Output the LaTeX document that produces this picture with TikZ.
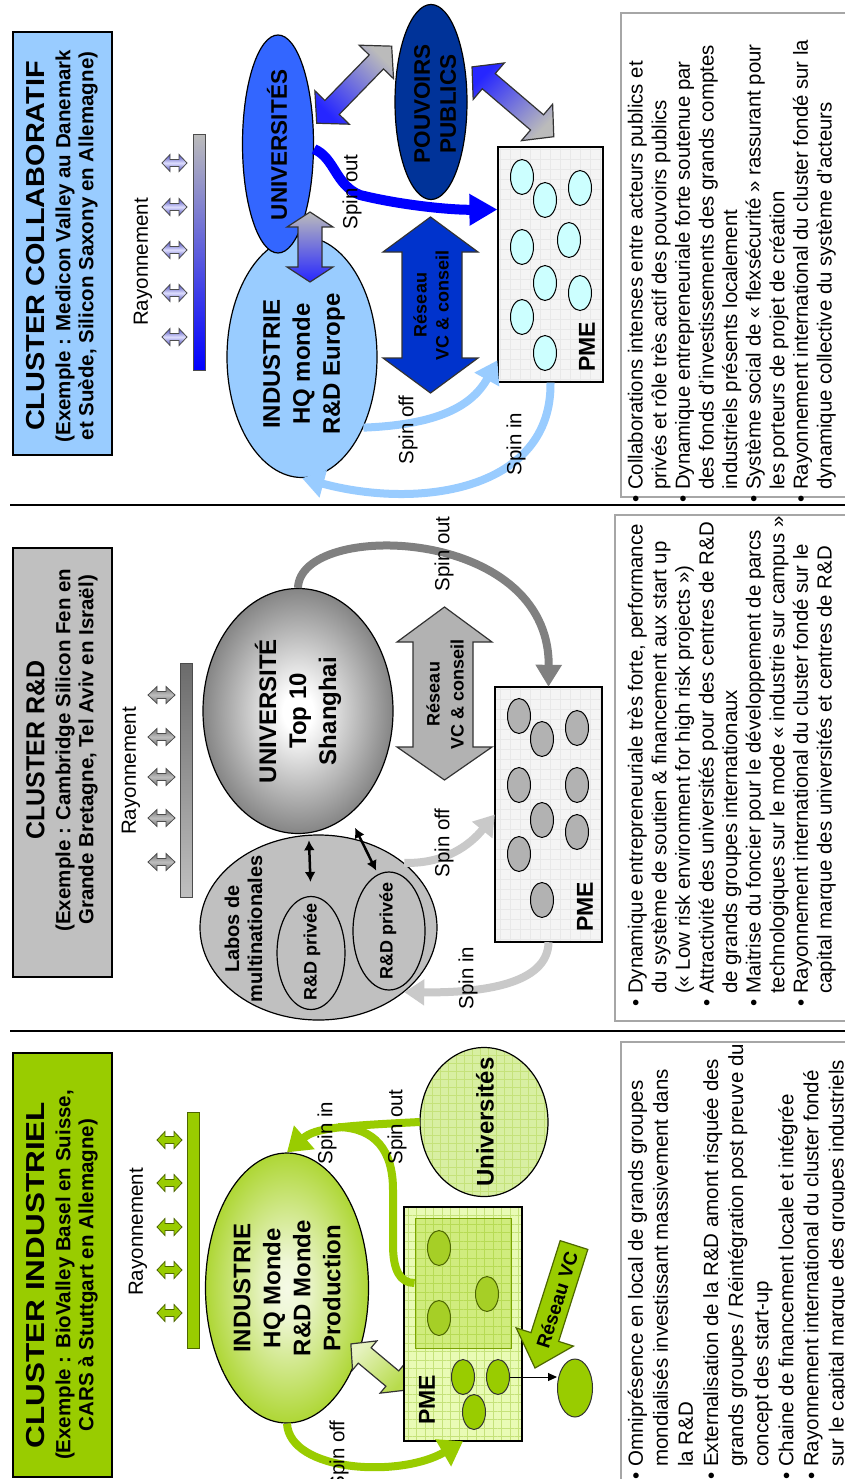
\documentclass[tikz,border=0pt]{standalone}
\usepackage{fontspec}
\setmainfont{Liberation Sans}
\usepackage{graphicx}
\usetikzlibrary{arrows.meta, shapes.geometric, patterns.meta}

\definecolor{vert}{HTML}{99CC00}
\definecolor{vertfonce}{HTML}{4D6600}
\definecolor{vertclair}{HTML}{E9FBB5}
\definecolor{vertgrille}{HTML}{C5E27A}
\definecolor{vertpale}{HTML}{D8EFA2}
\definecolor{vertcell}{HTML}{A6CF26}
\definecolor{gris}{HTML}{C0C0C0}
\definecolor{grismoyen}{HTML}{B2B2B2}
\definecolor{grisfonce}{HTML}{808080}
\definecolor{grisclair}{HTML}{C9C9C9}
\definecolor{fondpme}{HTML}{F4F4F4}
\definecolor{bleuciel}{HTML}{99CCFF}
\definecolor{bleuuniv}{HTML}{3366FF}
\definecolor{bleunuit}{HTML}{003399}
\definecolor{bleureseau}{HTML}{0033CC}
\definecolor{cyanpale}{HTML}{CCFFFF}
\definecolor{bleugris}{HTML}{BBBBBB}
\definecolor{cadre}{HTML}{A6A6A6}

\pgfdeclareradialshading{bouleverte}{\pgfpoint{0bp}{0bp}}{color(0bp)=(vert!10); color(5bp)=(vert!16); color(30bp)=(vert!95); color(35bp)=(vert); color(50bp)=(vert)}
\pgfdeclareradialshading{boulegrise}{\pgfpoint{0bp}{0bp}}{color(0bp)=(white); color(4bp)=(white); color(33bp)=(black!66); color(35bp)=(black!68); color(50bp)=(black!70)}

\newcommand{\itembul}{\strut\makebox[13pt][l]{\textbullet}}
\newcommand{\itemind}{\strut\hspace*{13pt}}

\begin{document}
\begin{tikzpicture}[x=1pt, y=-1pt,
    every node/.style={inner sep=0pt},
    sepline/.style={line width=1.6pt},
    ttlbox/.style={rectangle, draw, line width=1.2pt},
    ttltxt/.style={rotate=90, align=center, font=\bfseries\fontsize{20.5}{23}\selectfont},
    lbl/.style={rotate=90, align=center, font=\bfseries\fontsize{24}{30}\selectfont},
    spinlbl/.style={rotate=90, font=\fontsize{20.5}{24}\selectfont},
    ell/.style={ellipse, draw, line width=1.2pt},
    pmecell/.style={ellipse, draw, line width=1pt, minimum width=23pt, minimum height=35pt},
    pmebox/.style={rectangle, draw, line width=1.2pt},
    txtframe/.style={draw=cadre, line width=1.6pt},
    corps/.style={rotate=90, anchor=north west, align=left, font=\fontsize{20.4}{23.6}\selectfont},
    barre/.style={draw=black!70, line width=1pt},
    rayarr/.style={draw=black!70, line width=0.8pt},
    blocarr/.style={draw=black!80, line width=1.2pt},
    spin/.style={line width=8pt},
    dblk/.style={line width=2.5pt, {Latex[length=10pt,width=11pt]}-{Latex[length=10pt,width=11pt]}}
  ]

  \useasboundingbox (0,0) rectangle (845,1479);
  \fill[white] (0,0) rectangle (845,1479);

  % separations
  \draw[sepline] (10,505) -- (845,505);
  \draw[sepline] (10,1031) -- (845,1031);

  % ===== Cluster industriel =====
  \node[ttlbox, fill=vert, minimum width=99pt, minimum height=424pt] (ttl1) at (62.5,1265) {};
  \node[ttltxt] (ttl1t) at (62,1275) {{\fontsize{26}{30}\selectfont\scalebox{1.21}[1]{CLUSTER INDUSTRIEL}}\\[3pt]
    (Exemple : BioValley Basel en Suisse,\\CARS à Stuttgart en Allemagne)};

  \node[spinlbl] (ray1) at (138,1232) {Rayonnement};
  \foreach \yy in {1140,1183,1227,1270,1313}
    \draw[rayarr, fill=vert, draw=vertfonce] (157,\yy) -- ++(8,-8.5) -- ++(0,5) -- ++(9,0) -- ++(0,-5) -- ++(8,8.5)
      -- ++(-8,8.5) -- ++(0,-5) -- ++(-9,0) -- ++(0,5) -- cycle;
  \draw[barre, fill=vert, draw=vertfonce] (187,1112) rectangle (199,1348);

  \node[ell, minimum width=163pt, minimum height=270pt, shade, shading=bouleverte] (ind1) at (287,1288) {};
  \node[lbl] (ind1t) at (287,1288) {INDUSTRIE\\HQ Monde\\R\&D Monde\\Production};

  \node[ell, minimum width=128pt, minimum height=149pt, preaction={fill=vertpale},
    pattern={Hatch[angle=0, distance=8pt, line width=0.5pt]}, pattern color=vertgrille] (univ1) at (484,1122) {};
  \node[lbl] (univ1t) at (485,1122) {Universités};

  % fleche creuse industrie <-> PME
  \begin{scope}[shift={(378.5,1367)}, rotate=-39.9]
    \draw[blocarr, top color=vert!25!white, bottom color=vert!70!white, shading angle=45]
      (-36,0) -- (-18,19) -- (-18,10) -- (18,10) -- (18,19) -- (36,0) -- (18,-19) -- (18,-10) -- (-18,-10) -- (-18,-19) -- cycle;
  \end{scope}

  \node[pmebox, minimum width=118pt, minimum height=234pt, preaction={fill=vertclair},
    pattern={Hatch[angle=0, distance=8.5pt, line width=0.5pt]}, pattern color=vertgrille] (pme1) at (463,1324) {};
  \node[rectangle, draw=vert!80!black, line width=1pt, fill=vert, fill opacity=0.3, draw opacity=1,
    minimum width=96pt, minimum height=130pt] (pme1in) at (463,1283) {};
  \node[pmecell, fill=vertcell, draw=vertfonce] (ci1) at (439,1248) {};
  \node[pmecell, fill=vertcell, draw=vertfonce] (ci2) at (439,1318) {};
  \node[pmecell, fill=vertcell, draw=vertfonce] (ci3) at (487,1294) {};
  \node[pmecell, fill=vert, draw=black!80] (cs1) at (463,1377) {};
  \node[pmecell, fill=vert, draw=black!80] (cs2) at (498,1377) {};
  \node[pmecell, fill=vert, draw=black!80] (cs3) at (474,1412) {};
  \node[pmecell, fill=vert, draw=black!80, minimum width=35pt, minimum height=58pt] (ext1) at (575,1388) {};
  \draw[line width=1pt, -{Triangle[length=9pt,width=8pt]}] (cs2.east) -- (cs2.east -| ext1.west);
  \node[lbl, font=\bfseries\fontsize{23}{26}\selectfont] (pme1t) at (427,1400) {PME};

  % reseau VC
  \begin{scope}[shift={(554.5,1306.5)}, rotate=-107.6]
    \draw[blocarr, fill=vert, draw=vertfonce]
      (-64.5,-14.5) -- (32,-14.5) -- (32,-30) -- (64.5,0) -- (32,30) -- (32,14.5) -- (-64.5,14.5) -- cycle;
  \end{scope}
  \node[rotate=72.4, font=\bfseries\fontsize{19}{22}\selectfont] (rvc1) at (557,1300) {Réseau VC};

  % spin in / out / off
  \coordinate (merge1) at (338,1127);
  \draw[spin, draw=vert, -{Triangle[length=23pt,width=30pt]}] (univ1.west) .. controls (340,1126) and (315,1128) .. (ind1.north);
  \draw[spin, draw=vert] (pme1in.west) .. controls (400,1283) and (393,1270) .. (393,1245) -- (393,1190)
    .. controls (393,1150) and (375,1128) .. (merge1);
  \draw[spin, draw=vert, -{Triangle[length=23pt,width=30pt]}] (ind1.south) .. controls (290,1472) and (400,1478) .. (pme1.south);
  \node[spinlbl] (sin1) at (327,1133) {Spin in};
  \node[spinlbl] (sout1) at (397,1127) {Spin out};
  \node[spinlbl] (soff1) at (339,1455) {Spin off};

  \draw[txtframe] (621,1042) rectangle (870,1500);
  \node[corps, font=\fontsize{20.5}{25.1}\selectfont] (txt1) at (625,1480) {%
    \itembul Omniprésence en local de grands groupes\\
    \itemind mondialisés investissant massivement dans\\
    \itemind la R\&D\\
    \itembul Externalisation de la R\&D amont risquée des\\
    \itemind grands groupes / Réintégration post preuve du\\
    \itemind concept des start-up\\
    \itembul Chaine de financement locale et intégrée\\
    \itembul Rayonnement international du cluster fondé\\
    \itemind sur le capital marque des groupes industriels};

  % ===== Cluster R&D =====
  \node[ttlbox, fill=gris, minimum width=99pt, minimum height=429pt] (ttl2) at (62.5,762.5) {};
  \node[ttltxt] (ttl2t) at (62,750) {{\fontsize{26}{30}\selectfont\scalebox{0.96}[1]{CLUSTER R\&D}}\\[3pt]
    (Exemple : Cambridge Silicon Fen en\\Grande Bretagne, Tel Aviv en Israël)};

  \node[spinlbl] (ray2) at (131,771) {Rayonnement};
  \foreach \yy in {695,737,777,818,862}
    \draw[rayarr, top color=black!55, bottom color=black!55, middle color=black!25] (148,\yy) -- ++(9,-8.5) -- ++(0,5) -- ++(9,0) -- ++(0,-5) -- ++(9,8.5)
      -- ++(-9,8.5) -- ++(0,-5) -- ++(-9,0) -- ++(0,5) -- cycle;
  \draw[barre, top color=black!58, bottom color=black!25] (180,663) rectangle (192,897);

  \node[ell, minimum width=190pt, minimum height=245pt, shade, shading=boulegrise] (univ2) at (298,711) {};
  \node[lbl] (univ2t) at (298,711) {UNIVERSITÉ\\Top 10\\Shanghai};

  \node[ell, fill=gris, minimum width=237pt, minimum height=185pt] (labos) at (318.5,927.5) {};
  \node[ell, minimum width=68pt, minimum height=113pt] (rd1) at (311,953) {};
  \node[ell, minimum width=72pt, minimum height=118pt] (rd2) at (389,931) {};
  \node[lbl, font=\bfseries\fontsize{20}{23}\selectfont] (labost) at (243.5,929) {Labos de\\multinationales};
  \node[lbl, font=\bfseries\fontsize{18}{21}\selectfont] (rd1t) at (312,952) {R\&D privée};
  \node[lbl, font=\bfseries\fontsize{18}{21}\selectfont] (rd2t) at (388,931) {R\&D privée};
  \draw[dblk, shorten <=7pt, shorten >=14pt] (univ2.-85) -- (rd1.north);
  \draw[dblk, shorten <=14pt, shorten >=4pt] (univ2.-64) -- (rd2.101);

  \draw[blocarr, fill=grismoyen] (444.5,607) -- (492,642) -- (473,642) -- (473,747) -- (492,747) -- (444.5,780)
    -- (397,747) -- (413,747) -- (413,642) -- (397,642) -- cycle;
  \node[lbl, font=\bfseries\fontsize{18}{24}\selectfont] (rvc2) at (445,694) {Réseau\\VC \& conseil};

  \node[pmebox, minimum width=107pt, minimum height=255pt, preaction={fill=fondpme},
    pattern={Hatch[angle=0, distance=10pt, line width=0.4pt]}, pattern color=black!9] (pme2) at (548.5,814.5) {};
  \foreach \cx/\cy [count=\k] in {519/716, 542/739, 577/728, 519/785, 577/785, 542/820, 577/832, 519/854, 542/900}
    \node[pmecell, fill=grismoyen] (cr\k) at (\cx,\cy) {};
  \node[lbl, font=\bfseries\fontsize{23}{26}\selectfont] (pme2t) at (585,907) {PME};

  \draw[spin, draw=grisfonce, -{Triangle[length=22pt,width=25pt]}] (univ2.north) .. controls (300,520) and (550,525) .. (pme2.north);
  \draw[spin, draw=grisclair, -{Triangle[length=20pt,width=25pt]}] (labos.37) .. controls (445,864) and (470,845) .. (pme2.west);
  \draw[spin, draw=grisclair, -{Triangle[length=20pt,width=25pt]}] (pme2.south) .. controls (548,985) and (480,993) .. (labos.-37);
  \node[spinlbl] (sout2) at (444,554) {Spin out};
  \node[spinlbl] (soff2) at (444,843) {Spin off};
  \node[spinlbl] (sin2) at (468,978) {Spin in};

  \draw[txtframe] (615,515) rectangle (870,1021);
  \node[corps] (txt2) at (626,1007) {%
    \itembul Dynamique entrepreneuriale très forte, performance\\
    \itemind du système de soutien \& financement aux start up\\
    \itemind (« Low risk environment for high risk projects »)\\
    \itembul Attractivité des universités pour des centres de R\&D\\
    \itemind de grands groupes internationaux\\
    \itembul Maitrise du foncier pour le développement de parcs\\
    \itemind technologiques sur le mode « industrie sur campus »\\
    \itembul Rayonnement international du cluster fondé sur le\\
    \itemind capital marque des universités et centres de R\&D};

  % ===== Cluster collaboratif =====
  \node[ttlbox, fill=bleuciel, minimum width=99pt, minimum height=423pt] (ttl3) at (62.5,243.5) {};
  \node[ttltxt] (ttl3t) at (62,246) {{\fontsize{26}{30}\selectfont\scalebox{1.11}[1]{CLUSTER COLLABORATIF}}\\[3pt]
    (Exemple : Medicon Valley au Danemark\\et Suède, Silicon Saxony en Allemagne)};

  \node[spinlbl] (ray3) at (143,262) {Rayonnement};
  \foreach \yy in {163,207,250,293,337}
    \draw[rayarr, top color=blue!45!gray, bottom color=blue!45!gray, middle color=blue!12] (162,\yy) -- ++(8,-8.5) -- ++(0,5) -- ++(9,0) -- ++(0,-5) -- ++(8,8.5)
      -- ++(-8,8.5) -- ++(0,-5) -- ++(-9,0) -- ++(0,5) -- cycle;
  \draw[barre, top color=bleugris, bottom color=blue] (193,135) rectangle (205,370);

  \node[ell, fill=bleuciel, minimum width=150pt, minimum height=241pt] (ind3) at (302,357) {};
  \node[ell, fill=bleuuniv, minimum width=71pt, minimum height=218pt] (univ3) at (278,144) {};
  \node[ell, fill=bleunuit, minimum width=72pt, minimum height=195pt] (pouv) at (431,102) {};
  \node[lbl] (ind3t) at (304,364) {INDUSTRIE\\HQ monde\\R\&D Europe};
  \node[lbl, font=\bfseries\fontsize{22.5}{26}\selectfont] (univ3t) at (277,145) {UNIVERSITÉS};
  \node[lbl, font=\bfseries\fontsize{22.5}{26}\selectfont] (pouvt) at (435,104) {POUVOIRS\\PUBLICS};

  % fleches degradees
  \draw[blocarr, top color=bleugris, bottom color=blue!85] (310,212) -- (333,227) -- (322,227) -- (322,267) -- (333,267) -- (310,282)
    -- (287,267) -- (298,267) -- (298,227) -- (287,227) -- cycle;
  \begin{scope}[shift={(354.2,84.7)}, rotate=45.8]
    \draw[blocarr, top color=blue!85, bottom color=bleugris, shading angle=135]
      (-53.75,0) -- (-31.75,24) -- (-31.75,10) -- (31.75,10) -- (31.75,24) -- (53.75,0) -- (31.75,-24) -- (31.75,-10) -- (-31.75,-10) -- (-31.75,-24) -- cycle;
  \end{scope}
  \begin{scope}[shift={(512.9,101.8)}, rotate=-40.5]
    \draw[blocarr, top color=blue!85, bottom color=bleugris, shading angle=45]
      (-53.75,0) -- (-31.75,24) -- (-31.75,10) -- (31.75,10) -- (31.75,24) -- (53.75,0) -- (31.75,-24) -- (31.75,-10) -- (-31.75,-10) -- (-31.75,-24) -- cycle;
  \end{scope}

  \draw[blocarr, fill=bleureseau] (430.5,217) -- (478,252) -- (462,252) -- (462,358) -- (478,358) -- (430.5,393)
    -- (383,358) -- (402,358) -- (402,252) -- (383,252) -- cycle;
  \node[lbl, font=\bfseries\fontsize{18}{22}\selectfont] (rvc3) at (431,305) {Réseau\\VC \& conseil};

  \node[pmebox, minimum width=105pt, minimum height=235pt, preaction={fill=fondpme},
    pattern={Hatch[angle=0, distance=10pt, line width=0.4pt]}, pattern color=black!9] (pme3) at (550.5,264.5) {};
  \foreach \cx/\cy [count=\k] in {522/177, 545/200, 580/188, 522/247, 569/240, 545/283, 580/293, 522/317, 545/353}
    \node[pmecell, fill=cyanpale] (cc\k) at (\cx,\cy) {};
  \node[lbl, font=\bfseries\fontsize{23}{26}\selectfont] (pme3t) at (587,347) {PME};

  \draw[spin, line width=10pt, draw=blue, -{Triangle[length=28pt,width=30pt]}] (univ3.-8) .. controls (335,158) and (335,185) .. (360,195)
    .. controls (400,205) and (450,210) .. (pme3.134);
  \draw[spin, draw=bleuciel, -{Triangle[length=22pt,width=27pt]}] (ind3.-49) .. controls (430,425) and (470,410) .. (pme3.241);
  \draw[spin, draw=bleuciel, -{Triangle[length=22pt,width=27pt]}] (pme3.south) .. controls (552,490) and (420,510) .. (ind3.south);
  \node[spinlbl] (sout3) at (352,192) {Spin out};
  \node[spinlbl] (soff3) at (408,430) {Spin off};
  \node[spinlbl] (sin3) at (516,444) {Spin in};

  \draw[txtframe] (621,13) rectangle (870,497);
  \node[corps] (txt3) at (626,503) {%
    \itembul Collaborations intenses entre acteurs publics et\\
    \itemind privés et rôle très actif des pouvoirs publics\\
    \itembul Dynamique entrepreneuriale forte soutenue par\\
    \itemind des fonds d'investissements des grands comptes\\
    \itemind industriels présents localement\\
    \itembul Système social de « flexsécurité » rassurant pour\\
    \itemind les porteurs de projet de création\\
    \itembul Rayonnement international du cluster fondé sur la\\
    \itemind dynamique collective du système d'acteurs};

\end{tikzpicture}
\end{document}
